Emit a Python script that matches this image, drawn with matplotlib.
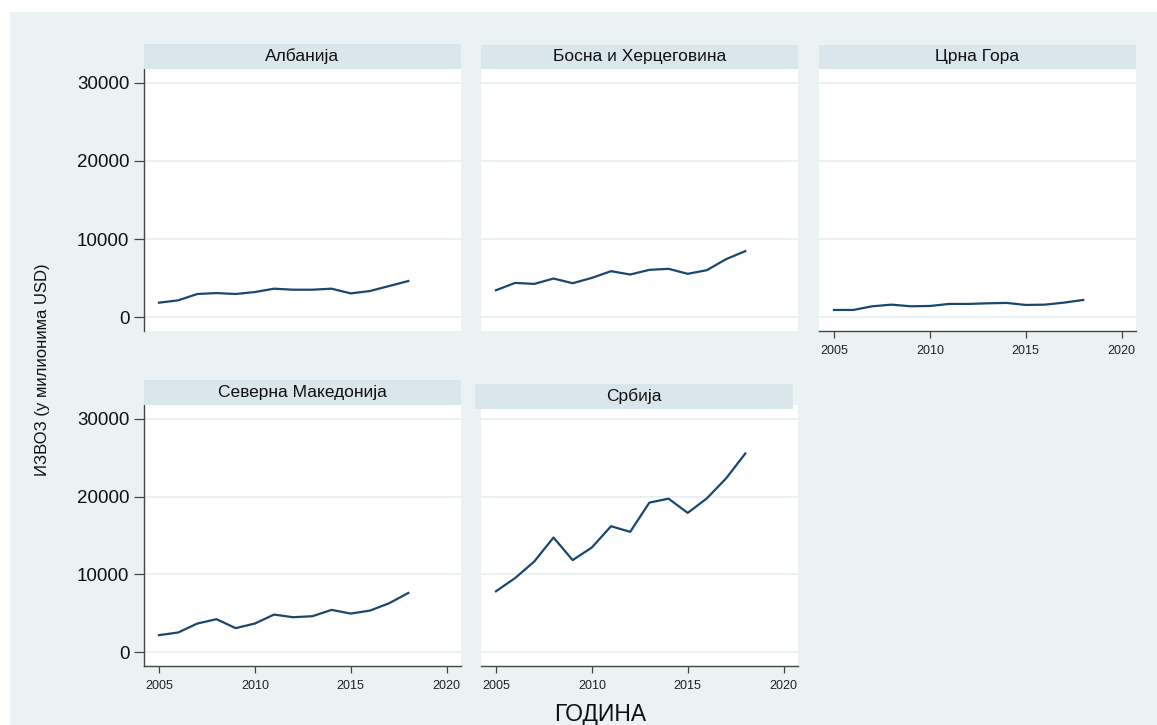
import matplotlib
matplotlib.use("Agg")
import matplotlib.pyplot as plt
from matplotlib.patches import Rectangle

plt.rcParams['font.family'] = ['Liberation Sans', 'DejaVu Sans']

years = list(range(2005, 2019))

albania = [1870, 2170, 2980, 3100, 2980, 3230, 3660, 3530, 3530, 3660, 3060, 3360, 4000, 4640]
bosnia = [3460, 4400, 4270, 4960, 4360, 5040, 5900, 5470, 6070, 6200, 5560, 6030, 7440, 8460]
montenegro = [940, 940, 1410, 1620, 1410, 1450, 1710, 1710, 1790, 1840, 1580, 1620, 1880, 2220]
macedonia = [2210, 2550, 3700, 4260, 3110, 3700, 4850, 4510, 4640, 5450, 4980, 5360, 6300, 7620]
serbia = [7840, 9540, 11670, 14740, 11840, 13460, 16190, 15470, 19220, 19730, 17900, 19770, 22330, 25520]

titles = ["Албанија", "Босна и Херцеговина", "Црна Гора", "Северна Македонија", "Србија"]
series = [albania, bosnia, montenegro, macedonia, serbia]

y_ticks = [0, 10000, 20000, 30000]
x_ticks = [2005, 2010, 2015, 2020]

W, H = 1157, 725
BG = "#eaf2f3"
STRIP = "#d9e6eb"
GRID = "#eaf1f3"
LINE = "#1a476f"
AXC = "#444444"

fig = plt.figure(figsize=(W / 100, H / 100), dpi=100)
fig.patch.set_facecolor("white")
fig.add_artist(Rectangle((10 / W, 0), 1 - 10 / W, 1 - 12 / H,
                         transform=fig.transFigure, facecolor=BG,
                         edgecolor="none", zorder=0))


def px_box(x0, y0, x1, y1):
    return [x0 / W, 1 - y1 / H, (x1 - x0) / W, (y1 - y0) / H]


# panel plot areas (pixel coordinates: left, top, right, bottom)
panels = [
    (144, 69, 461, 331),
    (481, 69, 798, 331),
    (819, 69, 1136, 331),
    (144, 405, 461, 666),
    (481, 405, 798, 666),
]
strips = [
    (144, 44, 461, 69),
    (481, 45, 798, 69),
    (819, 45, 1136, 69),
    (144, 380, 461, 405),
    (475, 384, 793, 409),
]
show_y = [True, False, False, True, False]
show_x = [False, False, True, True, True]

for i, (box, sbox) in enumerate(zip(panels, strips)):
    ax = fig.add_axes(px_box(*box))
    ax.set_facecolor("white")
    ax.set_xlim(2004.22, 2020.75)
    ax.set_ylim(-1750, 31750)
    ax.set_yticks(y_ticks)
    ax.set_xticks(x_ticks)
    ax.grid(axis="y", color=GRID, lw=1.5, zorder=1)
    ax.set_axisbelow(True)
    ax.plot(years, series[i], color=LINE, lw=1.6, zorder=3)
    for s in ax.spines.values():
        s.set_visible(False)
    if show_y[i]:
        ax.spines["left"].set_visible(True)
        ax.spines["left"].set_color(AXC)
        ax.spines["left"].set_linewidth(1.0)
        ax.tick_params(axis="y", length=7, width=0.9, color=AXC, pad=3.5,
                       labelsize=13.5, labelcolor="#111111")
    else:
        ax.tick_params(axis="y", left=False, labelleft=False)
    if show_x[i]:
        ax.spines["bottom"].set_visible(True)
        ax.spines["bottom"].set_color(AXC)
        ax.spines["bottom"].set_linewidth(1.0)
        ax.tick_params(axis="x", length=5, width=0.9, color=AXC, pad=5,
                       labelsize=9, labelcolor="#222222")
    else:
        ax.tick_params(axis="x", bottom=False, labelbottom=False)

    x0, y0, x1, y1 = sbox
    fig.add_artist(Rectangle((x0 / W, 1 - y1 / H), (x1 - x0) / W, (y1 - y0) / H,
                             transform=fig.transFigure, facecolor=STRIP,
                             edgecolor="none", zorder=5))
    fig.text((x0 + x1) / 2 / W, 1 - (y0 + y1) / 2 / H, titles[i],
             ha="center", va="center", fontsize=12.5, color="#111111", zorder=6)

fig.text(43 / W, 1 - 370 / H, "ИЗВОЗ (у милионима USD)", rotation=90,
         ha="center", va="center", fontsize=12, color="#111111")
fig.text(600 / W, 1 - 714 / H, "ГОДИНА", ha="center", va="center",
         fontsize=16.5, color="#111111")

fig.savefig("out.png", dpi=100, facecolor=fig.get_facecolor())
